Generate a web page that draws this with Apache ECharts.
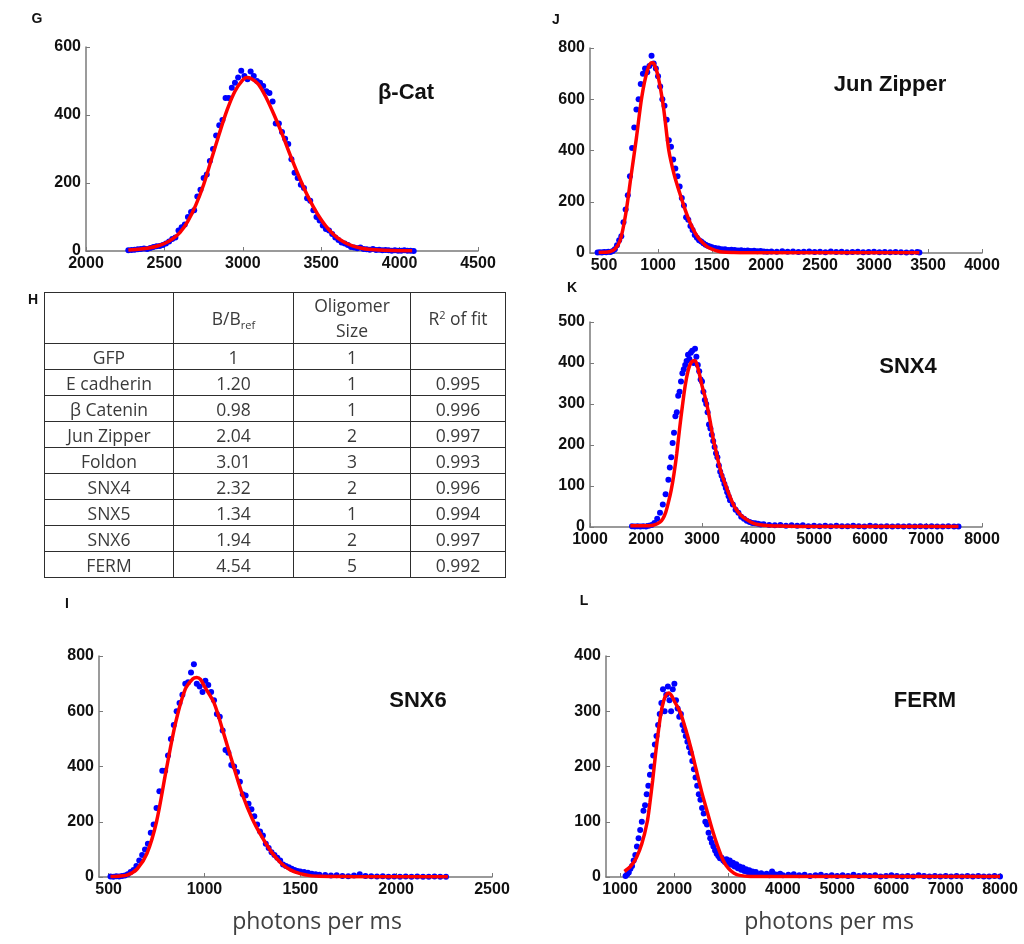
<!DOCTYPE html>
<html>
<head>
<meta charset="utf-8">
<script src="https://cdn.jsdelivr.net/npm/echarts@6/dist/echarts.min.js"></script>
<style>
body{margin:0;background:#fff;}
#main{width:1024px;height:944px;position:absolute;left:0;top:0;}
#tbl{position:absolute;left:44px;top:292px;border-collapse:collapse;table-layout:fixed;
  font-family:"Open Sans",sans-serif;font-size:17.5px;color:#3a3a3a;}
#tbl td{border:1.6px solid #2e2e2e;text-align:center;padding:0;height:25px;line-height:24px;}
#tbl tr.head td{height:49px;line-height:25px;}
#tbl sub{font-size:11px;vertical-align:-4px;line-height:0;}
#tbl sup{font-size:11px;vertical-align:6px;line-height:0;}
</style>
</head>
<body>
<div id="main"></div>
<table id="tbl"></table>
<script>
// G: beta-catenin
var gDots = [[2270,2],[2290,3],[2310,4],[2330,5],[2350,6],[2370,7],[2390,6],[2410,9],[2430,12],[2450,14],[2470,15],[2490,18],[2510,22],[2530,28],[2550,35],[2570,40],[2590,60],[2610,70],[2630,78],[2650,100],[2670,115],[2690,120],[2710,160],[2730,180],[2750,215],[2770,225],[2790,265],[2810,300],[2830,340],[2850,370],[2870,385],[2890,450],[2910,450],[2930,480],[2950,495],[2970,510],[2990,530],[3010,515],[3030,505],[3050,528],[3070,515],[3090,500],[3110,495],[3130,485],[3150,470],[3170,465],[3190,440],[3210,375],[3230,375],[3250,350],[3270,330],[3290,315],[3310,270],[3330,230],[3350,215],[3370,195],[3390,185],[3410,155],[3430,148],[3450,120],[3470,100],[3490,90],[3510,75],[3530,65],[3550,60],[3570,50],[3590,40],[3610,32],[3630,25],[3650,22],[3670,18],[3690,12],[3710,10],[3730,8],[3750,10],[3770,6],[3790,5],[3810,4],[3830,6],[3850,3],[3870,4],[3890,2],[3910,3],[3930,2],[3950,1],[3970,2],[3990,1],[4010,1],[4030,2],[4050,1],[4070,1],[4090,0]];
var gFit = [[2270,3],[2350,6],[2400,9],[2450,14],[2500,22],[2550,35],[2600,55],[2650,88],[2700,135],[2750,195],[2800,270],[2850,345],[2900,415],[2950,470],[3000,503],[3025,510],[3050,508],[3100,490],[3150,450],[3200,400],[3250,345],[3300,285],[3350,228],[3400,175],[3450,130],[3500,92],[3550,62],[3600,40],[3650,25],[3700,15],[3750,9],[3800,5],[3900,2],[4000,1],[4080,1]];

// J: Jun zipper
var jDots = [[440,2],[460,3],[480,2],[500,4],[520,3],[540,5],[560,4],[580,8],[600,15],[620,30],[640,50],[660,65],[680,120],[700,170],[720,225],[740,300],[760,410],[780,490],[800,560],[820,600],[840,660],[860,700],[880,720],[900,705],[920,730],[940,770],[960,740],[980,720],[1000,690],[1020,650],[1040,600],[1060,575],[1080,520],[1100,440],[1120,415],[1140,365],[1160,330],[1180,300],[1200,260],[1220,215],[1240,185],[1260,140],[1280,130],[1300,105],[1320,90],[1340,70],[1360,60],[1380,50],[1400,45],[1420,38],[1440,32],[1460,28],[1480,25],[1500,22],[1530,20],[1560,18],[1590,15],[1620,15],[1650,12],[1680,13],[1710,12],[1740,10],[1770,11],[1800,9],[1830,10],[1860,8],[1890,9],[1920,7],[1950,8],[1980,6],[2010,5],[2050,6],[2100,5],[2150,7],[2200,5],[2250,6],[2300,4],[2350,5],[2400,6],[2450,4],[2500,5],[2550,3],[2600,6],[2650,4],[2700,5],[2750,3],[2800,4],[2850,5],[2900,3],[2950,4],[3000,5],[3050,3],[3100,4],[3150,3],[3200,4],[3250,3],[3300,2],[3350,3],[3400,4],[3420,2]];
var jFit = [[450,2],[500,3],[550,5],[600,15],[650,50],[700,150],[750,300],[800,450],[850,610],[900,710],[940,742],[960,740],[1000,690],[1050,570],[1100,400],[1150,305],[1200,235],[1250,170],[1300,115],[1350,74],[1400,46],[1450,26],[1500,15],[1550,8],[1600,4],[1700,2],[1800,1],[2000,1],[2500,1],[3000,1],[3420,1]];

// K: SNX4
var kDots = [[1750,2],[1800,1],[1850,2],[1900,1],[1950,2],[2000,1],[2050,3],[2100,5],[2150,10],[2200,20],[2250,35],[2300,55],[2350,80],[2400,115],[2425,145],[2450,170],[2475,205],[2500,230],[2525,270],[2550,280],[2575,320],[2600,330],[2625,355],[2650,375],[2675,385],[2700,395],[2725,405],[2750,420],[2775,410],[2800,425],[2825,430],[2850,400],[2875,435],[2900,415],[2925,395],[2950,380],[2975,360],[3000,355],[3025,330],[3050,310],[3075,300],[3100,280],[3125,250],[3150,240],[3175,225],[3200,210],[3225,195],[3250,180],[3275,170],[3300,150],[3325,135],[3350,125],[3375,115],[3400,105],[3425,95],[3450,85],[3475,75],[3500,65],[3550,55],[3600,42],[3650,35],[3700,25],[3750,20],[3800,15],[3850,12],[3900,10],[3950,9],[4000,8],[4050,6],[4100,7],[4200,5],[4300,4],[4400,5],[4500,3],[4600,4],[4700,3],[4800,4],[4900,2],[5000,3],[5100,2],[5200,3],[5300,2],[5400,3],[5500,2],[5600,2],[5700,3],[5800,2],[5900,1],[6000,3],[6100,2],[6200,1],[6300,2],[6400,1],[6500,2],[6600,1],[6700,2],[6800,1],[6900,2],[7000,1],[7100,2],[7200,1],[7300,1],[7400,2],[7500,1],[7580,1]];
var kFit = [[1720,3],[1900,3],[2050,3],[2150,5],[2250,12],[2300,20],[2350,35],[2400,60],[2450,90],[2500,130],[2550,180],[2600,240],[2650,295],[2700,345],[2750,380],[2800,400],[2870,406],[2900,400],[2950,375],[3000,345],[3050,320],[3100,290],[3150,255],[3200,215],[3250,185],[3300,155],[3350,130],[3400,110],[3450,92],[3500,74],[3550,58],[3600,45],[3700,28],[3800,18],[3900,10],[4000,6],[4200,3],[4500,2],[5000,1],[6000,1],[7000,1],[7580,1]];

// I: SNX6
var iDots = [[510,2],[525,1],[540,3],[555,2],[570,4],[585,5],[600,10],[615,18],[630,25],[645,40],[660,60],[675,80],[690,100],[705,120],[720,160],[735,190],[750,250],[765,310],[780,385],[795,385],[810,440],[825,500],[840,550],[855,600],[870,630],[885,660],[900,700],[915,705],[930,740],[945,770],[960,700],[975,690],[990,670],[1005,710],[1020,695],[1035,670],[1050,640],[1065,590],[1080,580],[1095,530],[1110,460],[1125,450],[1140,405],[1155,400],[1170,380],[1185,345],[1200,300],[1215,295],[1230,265],[1245,245],[1260,220],[1275,190],[1290,165],[1305,150],[1320,120],[1335,105],[1350,90],[1365,80],[1380,70],[1395,60],[1410,45],[1425,40],[1440,35],[1455,30],[1470,25],[1485,22],[1500,20],[1520,18],[1540,15],[1560,12],[1580,10],[1600,8],[1630,7],[1660,5],[1690,6],[1720,4],[1750,3],[1780,5],[1810,10],[1840,4],[1870,3],[1900,2],[1930,3],[1960,1],[1990,2],[2020,1],[2050,2],[2080,1],[2110,2],[2140,1],[2170,1],[2200,2],[2230,1],[2260,1]];
var iFit = [[510,2],[550,3],[600,8],[650,30],[700,85],[750,200],[800,385],[850,560],[900,680],[940,718],[960,722],[980,715],[1000,690],[1050,630],[1100,520],[1150,405],[1200,295],[1250,210],[1300,145],[1350,90],[1400,50],[1450,25],[1500,12],[1550,5],[1600,3],[1700,2],[1800,1],[2000,1],[2270,1]];

// L: FERM
var lDots = [[1100,2],[1130,5],[1160,8],[1190,15],[1220,20],[1250,30],[1280,40],[1310,55],[1340,70],[1370,85],[1400,100],[1430,120],[1460,130],[1490,150],[1520,165],[1550,185],[1580,200],[1610,220],[1640,240],[1670,255],[1700,275],[1730,295],[1760,315],[1790,340],[1820,300],[1850,330],[1880,345],[1910,320],[1940,300],[1970,340],[2000,350],[2030,320],[2060,305],[2090,290],[2120,295],[2150,275],[2180,265],[2210,255],[2240,245],[2270,235],[2300,225],[2330,210],[2360,195],[2390,180],[2420,165],[2450,150],[2480,140],[2510,125],[2540,115],[2570,100],[2600,95],[2630,80],[2660,70],[2690,62],[2720,55],[2750,48],[2780,42],[2810,38],[2840,34],[2870,35],[2900,30],[2930,27],[2960,32],[2990,24],[3020,30],[3050,22],[3080,26],[3110,19],[3140,23],[3170,16],[3200,19],[3230,13],[3260,17],[3290,11],[3320,14],[3350,9],[3380,12],[3410,7],[3440,10],[3470,6],[3500,9],[3550,5],[3600,7],[3650,4],[3700,6],[3750,3],[3800,10],[3850,5],[3900,4],[3950,6],[4000,3],[4100,4],[4200,5],[4300,3],[4400,4],[4500,2],[4600,3],[4700,4],[4800,2],[4900,3],[5000,2],[5100,3],[5200,2],[5300,4],[5400,2],[5500,3],[5600,2],[5700,3],[5800,1],[5900,2],[6000,3],[6100,2],[6200,1],[6300,2],[6400,1],[6500,3],[6600,2],[6700,1],[6800,2],[6900,1],[7000,2],[7100,1],[7200,2],[7300,1],[7400,2],[7500,1],[7600,2],[7700,1],[7800,1],[7900,2],[8000,1]];
var lFit = [[1080,10],[1200,20],[1300,35],[1400,60],[1500,100],[1550,135],[1600,175],[1650,220],[1700,260],[1750,295],[1800,318],[1850,330],[1900,333],[1950,328],[2000,318],[2100,300],[2200,270],[2300,235],[2400,195],[2500,155],[2600,120],[2700,85],[2800,55],[2900,30],[3000,15],[3100,7],[3200,3],[3400,1],[4000,1],[5000,1],[6000,1],[7000,1],[8000,1]];

// axis ticks
var gXTicks = [2000,2500,3000,3500,4000,4500];
var jXTicks = [500,1000,1500,2000,2500,3000,3500,4000];
var kXTicks = [1000,2000,3000,4000,5000,6000,7000,8000];
var iXTicks = [500,1000,1500,2000,2500];
var lXTicks = [1000,2000,3000,4000,5000,6000,7000,8000];

// table H
var tblNames = ['GFP','E cadherin','\u03b2 Catenin','Jun Zipper','Foldon','SNX4','SNX5','SNX6','FERM'];
var tblRatio = ['1','1.20','0.98','2.04','3.01','2.32','1.34','1.94','4.54'];
var tblOligo = ['1','1','1','2','3','2','1','2','5'];
var tblR2 = ['','0.995','0.996','0.997','0.993','0.996','0.994','0.997','0.992'];

var tbl = document.getElementById('tbl');
var html = '<colgroup><col style="width:129px"><col style="width:120px"><col style="width:117px"><col style="width:95px"></colgroup>';
html += '<tr class="head"><td></td><td>B/B<sub>ref</sub></td><td>Oligomer<br>Size</td><td>R<sup>2</sup> of fit</td></tr>';
for (var r = 0; r < tblNames.length; r++) {
    html += '<tr><td>' + tblNames[r] + '</td><td>' + tblRatio[r] + '</td><td>' + tblOligo[r] + '</td><td>' + tblR2[r] + '</td></tr>';
}
tbl.innerHTML = html;

var panels = [
    {grid:{left:86, top:47, width:392, height:204}, xmin:2000, xmax:4500, xt:gXTicks, ymax:600, yi:200, dots:gDots, fit:gFit},
    {grid:{left:590, top:48, width:392, height:205}, xmin:370, xmax:4000, xt:jXTicks, ymax:800, yi:200, dots:jDots, fit:jFit},
    {grid:{left:590, top:322, width:392, height:205}, xmin:1000, xmax:8000, xt:kXTicks, ymax:500, yi:100, dots:kDots, fit:kFit},
    {grid:{left:99, top:656, width:393, height:221}, xmin:450, xmax:2500, xt:iXTicks, ymax:800, yi:200, dots:iDots, fit:iFit},
    {grid:{left:606, top:656, width:394, height:221}, xmin:740, xmax:8000, xt:lXTicks, ymax:400, yi:100, dots:lDots, fit:lFit}
];

var axisColor = '#7a7a7a';
var labelFont = {fontFamily:'"Liberation Sans", Arial, sans-serif', fontWeight:'bold', fontSize:16, color:'#111',
    formatter:function (v) { return String(v); }};

var grids = [], xAxes = [], yAxes = [], series = [];
for (var p = 0; p < panels.length; p++) {
    var pn = panels[p];
    grids.push(pn.grid);
    xAxes.push({
        type:'value', gridIndex:p, min:pn.xmin, max:pn.xmax,
        splitLine:{show:false},
        axisLine:{show:true, onZero:false, lineStyle:{color:axisColor, width:1.5}},
        axisTick:{show:true, inside:true, length:4, customValues:pn.xt, lineStyle:{color:axisColor}},
        axisLabel:Object.assign({customValues:pn.xt, margin:5}, labelFont)
    });
    yAxes.push({
        type:'value', gridIndex:p, min:0, max:pn.ymax, interval:pn.yi,
        splitLine:{show:false},
        axisLine:{show:true, lineStyle:{color:axisColor, width:1.5}},
        axisTick:{show:true, inside:true, length:4, lineStyle:{color:axisColor}},
        axisLabel:Object.assign({margin:5}, labelFont)
    });
    series.push({
        type:'scatter', xAxisIndex:p, yAxisIndex:p, data:pn.dots,
        symbolSize:6, itemStyle:{color:'#0000ff', opacity:1}, z:2
    });
    series.push({
        type:'line', xAxisIndex:p, yAxisIndex:p, data:pn.fit,
        showSymbol:false, smooth:0.3, lineStyle:{color:'#ff0000', width:3.5}, z:3
    });
}

function txt(s, x, y, font, fill) {
    return {type:'text', x:x, y:y, z:10,
        style:{text:s, x:0, y:0, font:font, fill:fill || '#111', align:'center', verticalAlign:'middle'}};
}
var bold22 = 'bold 22px "Liberation Sans", Arial, sans-serif';
var bold14 = 'bold 14px "Liberation Sans", Arial, sans-serif';
var axName = '23px "Open Sans", sans-serif';

var graphics = [
    txt('G', 37, 19, bold14), txt('J', 556, 20, bold14), txt('H', 33, 300, bold14),
    txt('K', 572, 288, bold14), txt('I', 67, 604, bold14), txt('L', 584, 601, bold14),
    txt('\u03b2-Cat', 406, 93, bold22), txt('Jun Zipper', 890, 85, bold22),
    txt('SNX4', 908, 367, bold22), txt('SNX6', 418, 701, bold22), txt('FERM', 925, 701, bold22),
    txt('photons per ms', 317, 922, axName, '#404040'),
    txt('photons per ms', 829, 922, axName, '#404040')
];

var myChart = echarts.init(document.getElementById('main'));
myChart.setOption({
    animation:false,
    backgroundColor:'#fff',
    grid:grids,
    xAxis:xAxes,
    yAxis:yAxes,
    series:series,
    graphic:graphics
});
</script>
</body>
</html>
